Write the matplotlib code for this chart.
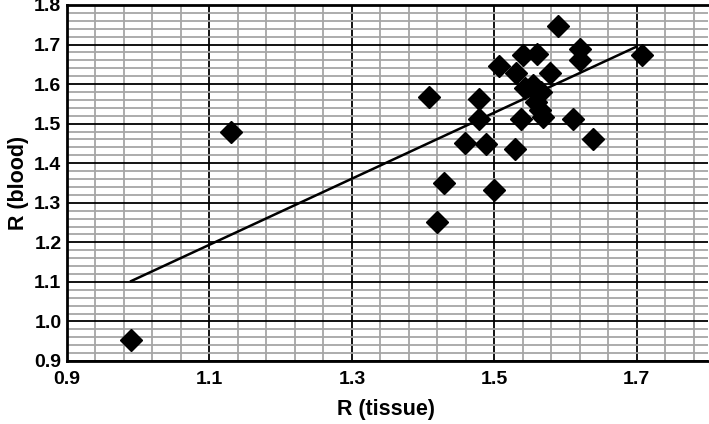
import matplotlib
matplotlib.use("Agg")
import matplotlib.pyplot as plt
import numpy as np
from matplotlib.ticker import FixedLocator

plt.rcParams['font.family'] = ['Liberation Sans', 'DejaVu Sans']

r_tissue = [0.99, 1.13, 1.43, 1.50, 1.42, 1.59, 1.62, 1.62, 1.708, 1.54, 1.56,
            1.507, 1.531, 1.578, 1.408, 1.479, 1.543, 1.554, 1.566, 1.559,
            1.564, 1.568, 1.479, 1.538, 1.610, 1.638, 1.459, 1.489, 1.529]
r_blood = [0.953, 1.478, 1.351, 1.332, 1.252, 1.748, 1.688, 1.662, 1.673, 1.673, 1.677,
           1.645, 1.627, 1.627, 1.567, 1.563, 1.589, 1.597, 1.580, 1.555,
           1.534, 1.517, 1.513, 1.513, 1.513, 1.462, 1.450, 1.448, 1.437]

trend_x = [0.99, 1.70]
trend_y = [1.102, 1.695]

x_ticks = [0.9, 1.1, 1.3, 1.5, 1.7]
y_ticks = [0.9, 1.0, 1.1, 1.2, 1.3, 1.4, 1.5, 1.6, 1.7, 1.8]

fig = plt.figure(figsize=(7.09, 4.24), dpi=100)
ax = fig.add_axes([67/709, 1-361/424, (708-67)/709, (361-5)/424])

ax.set_xlim(0.9, 1.8)
ax.set_ylim(0.9, 1.8)

x_minor = [0.9 + 0.04*i for i in range(23) if i % 5 != 0]
y_minor = [0.9 + 0.02*i for i in range(46) if i % 5 != 0]
ax.xaxis.set_major_locator(FixedLocator(x_ticks))
ax.yaxis.set_major_locator(FixedLocator(y_ticks))
ax.xaxis.set_minor_locator(FixedLocator(x_minor))
ax.yaxis.set_minor_locator(FixedLocator(y_minor))
ax.set_xticklabels([f"{v:.1f}" for v in x_ticks])
ax.set_yticklabels([f"{v:.1f}" for v in y_ticks])

ax.grid(which='minor', color='#a6a6a6', linewidth=1.3)
ax.grid(which='major', color='black', linewidth=1.3)
ax.set_axisbelow(True)

ax.tick_params(which='both', length=0, labelsize=14)
ax.tick_params(axis='x', pad=7)
ax.tick_params(axis='y', pad=4)
for lab in ax.get_xticklabels() + ax.get_yticklabels():
    lab.set_fontweight('bold')

for s in ['left', 'bottom', 'top']:
    ax.spines[s].set_linewidth(2)
    ax.spines[s].set_color('black')
ax.spines['right'].set_visible(False)

ax.plot(trend_x, trend_y, color='black', linewidth=1.8, zorder=3)
ax.plot(r_tissue, r_blood, linestyle='none', marker='D', markersize=11.5,
        color='black', zorder=4, clip_on=False)

ax.set_xlabel('R (tissue)', fontsize=15.5, fontweight='bold')
ax.set_ylabel('R (blood)', fontsize=15.5, fontweight='bold')
ax.xaxis.set_label_coords((386-67)/641, (361-410)/356)
ax.yaxis.set_label_coords((19-67)/641, 0.5)
ax.xaxis.label.set_va('center')
ax.yaxis.label.set_va('center')

fig.savefig('out.png', dpi=100)
